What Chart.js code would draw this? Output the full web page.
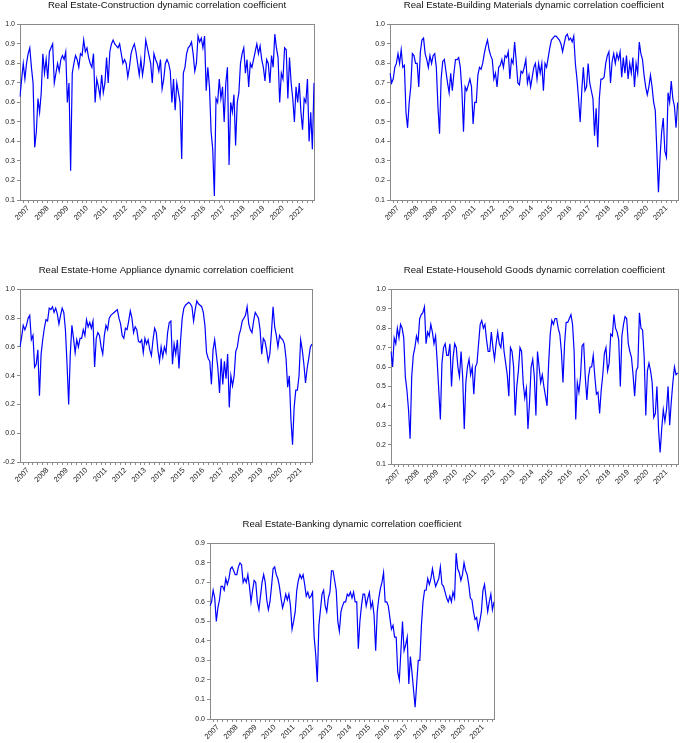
<!DOCTYPE html>
<html><head><meta charset="utf-8">
<script src="https://cdn.jsdelivr.net/npm/chart.js@4"></script>
<style>
html,body{margin:0;padding:0;background:#fff;width:685px;height:743px;overflow:hidden;}
canvas{position:absolute;}
</style></head><body>
<canvas id="c1" width="340" height="235" style="left:0px;top:0px"></canvas>
<canvas id="c2" width="315" height="235" style="left:370px;top:0px"></canvas>
<canvas id="c3" width="340" height="232" style="left:0px;top:265px"></canvas>
<canvas id="c4" width="314" height="234" style="left:371px;top:265px"></canvas>
<canvas id="c5" width="330" height="224" style="left:190px;top:519px"></canvas>
<script>
// Monthly observation dates (categories), Aug 2006 .. Aug 2021
const startYear = 2006, startMonth = 8, monthCount = 181;
const months = [];
for (let k = 0; k < monthCount; k++) {
  const t = startMonth - 1 + k;
  months.push(String(startYear + Math.floor(t / 12)) + '-' + String(t % 12 + 1).padStart(2, '0'));
}
const yearLabels = ["2007","2008","2009","2010","2011","2012","2013","2014","2015","2016","2017","2018","2019","2020","2021"];

const titles = [
  "Real Estate-Construction dynamic correlation coefficient",
  "Real Estate-Building Materials dynamic correlation coefficient",
  "Real Estate-Home Appliance dynamic correlation coefficient",
  "Real Estate-Household Goods dynamic correlation coefficient",
  "Real Estate-Banking dynamic correlation coefficient"
];

const construction = [
0.63,0.72,0.8,0.72,0.8,0.85,0.88,0.78,0.7,0.37,
0.45,0.62,0.55,0.65,0.85,0.75,0.82,0.72,0.86,0.88,
0.9,0.7,0.75,0.8,0.76,0.82,0.84,0.82,0.86,0.6,
0.7,0.25,0.75,0.8,0.84,0.82,0.78,0.85,0.84,0.92,
0.86,0.88,0.83,0.8,0.78,0.85,0.6,0.72,0.68,0.63,
0.74,0.65,0.7,0.83,0.7,0.86,0.9,0.92,0.9,0.89,
0.88,0.9,0.85,0.8,0.82,0.8,0.73,0.78,0.85,0.88,
0.9,0.86,0.8,0.74,0.82,0.74,0.8,0.92,0.88,0.84,
0.8,0.7,0.85,0.82,0.8,0.76,0.82,0.67,0.72,0.8,
0.82,0.8,0.76,0.6,0.72,0.56,0.7,0.65,0.6,0.31,
0.75,0.78,0.85,0.88,0.89,0.91,0.85,0.76,0.8,0.94,
0.91,0.93,0.88,0.94,0.66,0.78,0.68,0.45,0.36,0.12,
0.62,0.6,0.72,0.62,0.68,0.5,0.7,0.78,0.28,0.6,
0.55,0.64,0.38,0.6,0.65,0.8,0.85,0.88,0.75,0.82,
0.68,0.8,0.78,0.82,0.86,0.9,0.85,0.89,0.82,0.78,
0.71,0.82,0.8,0.7,0.84,0.78,0.95,0.88,0.83,0.6,
0.75,0.72,0.88,0.87,0.62,0.83,0.7,0.62,0.5,0.68,
0.6,0.7,0.55,0.46,0.62,0.6,0.72,0.4,0.55,0.36,
0.7];

const buildingMaterials = [
0.75,0.7,0.72,0.78,0.8,0.85,0.8,0.87,0.78,0.79,
0.55,0.47,0.6,0.68,0.85,0.84,0.8,0.8,0.68,0.86,
0.92,0.93,0.85,0.82,0.78,0.84,0.8,0.84,0.85,0.78,
0.58,0.44,0.72,0.81,0.82,0.76,0.7,0.65,0.75,0.66,
0.75,0.82,0.82,0.83,0.78,0.66,0.45,0.68,0.66,0.69,
0.72,0.68,0.49,0.6,0.6,0.74,0.78,0.77,0.8,0.85,
0.89,0.92,0.87,0.84,0.82,0.72,0.75,0.68,0.78,0.79,
0.82,0.78,0.84,0.83,0.86,0.72,0.82,0.8,0.91,0.81,
0.7,0.69,0.76,0.75,0.78,0.82,0.7,0.74,0.68,0.73,
0.78,0.8,0.72,0.8,0.75,0.8,0.66,0.8,0.78,0.83,
0.88,0.92,0.93,0.94,0.94,0.93,0.92,0.9,0.86,0.9,
0.94,0.95,0.92,0.93,0.91,0.94,0.8,0.72,0.62,0.5,
0.66,0.78,0.66,0.68,0.8,0.7,0.66,0.62,0.43,0.57,
0.37,0.62,0.72,0.72,0.73,0.8,0.84,0.86,0.7,0.81,
0.85,0.8,0.85,0.82,0.86,0.73,0.83,0.75,0.84,0.72,
0.8,0.75,0.83,0.68,0.8,0.75,0.91,0.85,0.82,0.74,
0.68,0.64,0.68,0.74,0.68,0.6,0.56,0.35,0.14,0.32,
0.45,0.52,0.35,0.32,0.65,0.6,0.71,0.62,0.58,0.47,
0.6];

const homeAppliance = [
0.6,0.67,0.75,0.72,0.75,0.8,0.82,0.65,0.68,0.46,
0.48,0.58,0.26,0.55,0.65,0.73,0.79,0.78,0.87,0.86,
0.88,0.84,0.87,0.83,0.76,0.82,0.87,0.84,0.72,0.48,
0.2,0.55,0.75,0.66,0.56,0.65,0.6,0.66,0.66,0.72,
0.68,0.79,0.74,0.77,0.73,0.78,0.46,0.66,0.7,0.68,
0.6,0.55,0.68,0.75,0.72,0.8,0.82,0.83,0.84,0.85,
0.86,0.8,0.76,0.68,0.66,0.73,0.72,0.78,0.85,0.8,
0.7,0.74,0.72,0.64,0.63,0.65,0.56,0.66,0.62,0.65,
0.58,0.54,0.65,0.73,0.7,0.58,0.5,0.6,0.53,0.6,
0.56,0.7,0.77,0.78,0.48,0.62,0.55,0.65,0.45,0.65,
0.8,0.87,0.89,0.9,0.91,0.9,0.88,0.78,0.86,0.92,
0.9,0.89,0.88,0.84,0.75,0.56,0.52,0.5,0.34,0.58,
0.65,0.55,0.45,0.28,0.52,0.34,0.5,0.38,0.55,0.18,
0.4,0.33,0.4,0.57,0.6,0.68,0.72,0.78,0.8,0.82,
0.88,0.76,0.72,0.7,0.78,0.84,0.82,0.8,0.72,0.55,
0.66,0.64,0.58,0.5,0.55,0.7,0.88,0.74,0.68,0.6,
0.68,0.66,0.65,0.62,0.52,0.32,0.4,0.1,-0.08,0.18,
0.3,0.3,0.4,0.65,0.58,0.48,0.35,0.45,0.52,0.6,
0.62];

const householdGoods = [
0.68,0.6,0.75,0.72,0.8,0.75,0.82,0.8,0.75,0.55,
0.48,0.38,0.23,0.55,0.66,0.7,0.76,0.73,0.85,0.87,
0.88,0.91,0.72,0.78,0.76,0.82,0.78,0.72,0.76,0.63,
0.48,0.33,0.62,0.7,0.72,0.66,0.66,0.72,0.5,0.65,
0.72,0.7,0.6,0.55,0.68,0.55,0.28,0.52,0.6,0.64,
0.56,0.6,0.46,0.6,0.62,0.72,0.82,0.84,0.8,0.82,
0.74,0.68,0.68,0.78,0.7,0.64,0.72,0.78,0.72,0.7,
0.78,0.68,0.62,0.56,0.45,0.7,0.68,0.6,0.35,0.5,
0.58,0.7,0.68,0.52,0.44,0.49,0.28,0.42,0.6,0.64,
0.55,0.35,0.68,0.6,0.52,0.56,0.5,0.45,0.4,0.62,
0.77,0.84,0.82,0.85,0.85,0.8,0.77,0.68,0.52,0.72,
0.83,0.83,0.85,0.87,0.82,0.68,0.33,0.52,0.47,0.55,
0.71,0.72,0.55,0.43,0.55,0.6,0.6,0.66,0.55,0.46,
0.47,0.36,0.48,0.56,0.67,0.7,0.58,0.62,0.77,0.76,
0.87,0.8,0.78,0.74,0.5,0.76,0.82,0.86,0.85,0.72,
0.68,0.65,0.56,0.45,0.58,0.6,0.88,0.8,0.79,0.65,
0.35,0.58,0.62,0.58,0.52,0.34,0.36,0.5,0.28,0.16,
0.28,0.38,0.32,0.38,0.5,0.3,0.42,0.52,0.6,0.56,
0.57];

const banking = [
0.58,0.6,0.66,0.62,0.5,0.57,0.61,0.68,0.68,0.66,
0.72,0.69,0.72,0.77,0.78,0.76,0.74,0.74,0.78,0.8,
0.79,0.7,0.72,0.7,0.74,0.68,0.6,0.66,0.71,0.7,
0.6,0.56,0.63,0.7,0.74,0.7,0.61,0.56,0.6,0.68,
0.77,0.78,0.74,0.72,0.68,0.62,0.57,0.6,0.64,0.61,
0.64,0.58,0.46,0.5,0.55,0.66,0.71,0.74,0.72,0.74,
0.69,0.63,0.65,0.62,0.63,0.65,0.42,0.33,0.19,0.48,
0.56,0.64,0.66,0.58,0.55,0.62,0.65,0.76,0.76,0.71,
0.66,0.5,0.45,0.55,0.58,0.6,0.6,0.64,0.63,0.65,
0.62,0.65,0.6,0.6,0.36,0.5,0.58,0.64,0.64,0.58,
0.62,0.65,0.57,0.6,0.53,0.35,0.55,0.62,0.67,0.7,
0.75,0.6,0.6,0.58,0.52,0.46,0.48,0.42,0.42,0.24,
0.2,0.35,0.5,0.35,0.38,0.42,0.18,0.32,0.24,0.15,
0.06,0.18,0.3,0.3,0.48,0.6,0.66,0.66,0.72,0.69,
0.72,0.77,0.72,0.68,0.7,0.72,0.78,0.69,0.68,0.65,
0.62,0.6,0.63,0.6,0.65,0.62,0.85,0.77,0.75,0.71,
0.74,0.8,0.76,0.74,0.69,0.62,0.61,0.55,0.51,0.52,
0.46,0.5,0.55,0.66,0.69,0.62,0.55,0.6,0.64,0.56,
0.6];

const FONT = 'Arial, "Liberation Sans", sans-serif';
const AXIS = '#8a8a8a';

const framePlugin = {
  id: 'frame',
  beforeDatasetsDraw(chart) {
    const { ctx, chartArea: a } = chart;
    ctx.save();
    ctx.strokeStyle = AXIS;
    ctx.lineWidth = 1;
    ctx.strokeRect(Math.round(a.left) + 0.5, Math.round(a.top) + 0.5, Math.round(a.right - a.left), Math.round(a.bottom - a.top));
    ctx.restore();
  }
};

function isQuarter(i) {
  const m = months[i] ? months[i].slice(5) : '';
  return m === '01' || m === '04' || m === '07' || m === '10';
}

function makeChart(id, title, values, yMin, yMax, yStep, padRight, xHeight) {
  new Chart(document.getElementById(id), {
    type: 'line',
    data: {
      labels: months,
      datasets: [{ data: values, borderColor: '#0000ff', borderWidth: 1.2, pointRadius: 0, tension: 0, fill: false }]
    },
    options: {
      responsive: false,
      animation: false,
      events: [],
      layout: { padding: { left: 0, right: padRight, top: 0, bottom: 0 } },
      plugins: {
        legend: { display: false },
        tooltip: { enabled: false },
        title: {
          display: true, text: title, fullSize: false, color: '#111',
          font: { family: FONT, size: 9.6, weight: 'normal', lineHeight: 1.2 },
          padding: { top: 0, bottom: 12.9 }
        }
      },
      scales: {
        x: {
          type: 'category',
          offset: false,
          afterFit: (s) => { s.height = xHeight; },
          border: { display: false },
          grid: {
            display: true, drawOnChartArea: false, drawTicks: true, tickLength: 3,
            tickColor: (c) => (c.index !== undefined && isQuarter(c.index)) ? AXIS : 'rgba(0,0,0,0)',
            color: 'rgba(0,0,0,0)'
          },
          ticks: {
            autoSkip: false, minRotation: 45, maxRotation: 45, padding: 1,
            color: '#222', font: { family: FONT, size: 7.5 },
            callback: function (v, i) {
              const m = months[i];
              const y = m.slice(0, 4);
              return (m.slice(5) === '01' && yearLabels.includes(y)) ? y : '';
            }
          }
        },
        y: {
          min: yMin, max: yMax,
          afterFit: (s) => { s.width = 20; },
          border: { display: false },
          grid: { display: true, drawOnChartArea: false, drawTicks: true, tickLength: 3, tickColor: AXIS, color: 'rgba(0,0,0,0)' },
          ticks: {
            stepSize: yStep, padding: 2, color: '#222', font: { family: FONT, size: 7 },
            callback: (v) => (Math.abs(v) < 1e-9 ? 0 : Number(v)).toFixed(1)
          }
        }
      }
    },
    plugins: [framePlugin]
  });
}

makeChart('c1', titles[0], construction, 0.1, 1.0, 0.1, 26, 35);
makeChart('c2', titles[1], buildingMaterials, 0.1, 1.0, 0.1, 1, 35);
makeChart('c3', titles[2], homeAppliance, -0.2, 1.0, 0.2, 28, 35);
makeChart('c4', titles[3], householdGoods, 0.1, 1.0, 0.1, 1, 35);
makeChart('c5', titles[4], banking, 0.0, 0.9, 0.1, 26, 24);
</script>
</body></html>
